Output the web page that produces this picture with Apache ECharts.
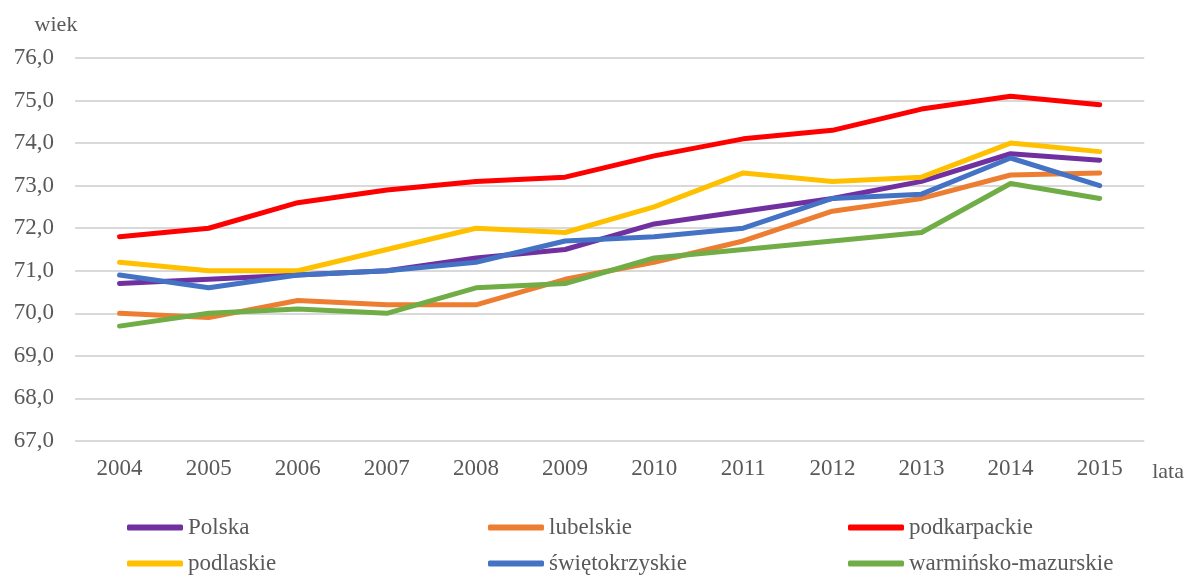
<!DOCTYPE html>
<html>
<head>
<meta charset="utf-8">
<script src="https://cdn.jsdelivr.net/npm/echarts@6/dist/echarts.min.js"></script>
<style>
  html, body { margin: 0; padding: 0; background: #fff; }
  #chart { width: 1187px; height: 576px; }
</style>
</head>
<body>
<div id="chart"></div>
<script>
  var years = ['2004', '2005', '2006', '2007', '2008', '2009', '2010', '2011', '2012', '2013', '2014', '2015'];

  var polska = [70.7, 70.8, 70.9, 71.0, 71.3, 71.5, 72.1, 72.4, 72.7, 73.1, 73.75, 73.6];
  var lubelskie = [70.0, 69.9, 70.3, 70.2, 70.2, 70.8, 71.2, 71.7, 72.4, 72.7, 73.25, 73.3];
  var podkarpackie = [71.8, 72.0, 72.6, 72.9, 73.1, 73.2, 73.7, 74.1, 74.3, 74.8, 75.1, 74.9];
  var podlaskie = [71.2, 71.0, 71.0, 71.5, 72.0, 71.9, 72.5, 73.3, 73.1, 73.2, 74.0, 73.8];
  var swietokrzyskie = [70.9, 70.6, 70.9, 71.0, 71.2, 71.7, 71.8, 72.0, 72.7, 72.8, 73.65, 73.0];
  var warminsko = [69.7, 70.0, 70.1, 70.0, 70.6, 70.7, 71.3, 71.5, 71.7, 71.9, 73.05, 72.7];

  var font = 'Liberation Serif';
  var textColor = '#595959';

  var chart = echarts.init(document.getElementById('chart'), null, { renderer: 'canvas' });

  function line(name, data, color) {
    return {
      name: name,
      type: 'line',
      data: data,
      symbol: 'none',
      lineStyle: { width: 5, color: color, cap: 'round', join: 'round' },
      itemStyle: { color: color }
    };
  }

  // one legend per column, two rows each
  function legendCol(left, names) {
    return {
      orient: 'vertical',
      left: left,
      top: 516,
      height: 70,
      padding: 0,
      data: names,
      icon: 'roundRect',
      itemWidth: 56,
      itemHeight: 6,
      itemGap: 13,
      textStyle: { fontFamily: font, fontSize: 23, color: textColor }
    };
  }

  var options = {
    animation: false,
    textStyle: { fontFamily: font },
    grid: { left: 75, right: 34, top: 58, bottom: 135, containLabel: false },
    legend: [
      legendCol(127, ['Polska', 'podlaskie']),
      legendCol(488, ['lubelskie', 'świętokrzyskie']),
      legendCol(848, ['podkarpackie', 'warmińsko-mazurskie'])
    ],
    xAxis: {
      type: 'category',
      data: years,
      boundaryGap: true,
      name: 'lata',
      nameLocation: 'end',
      nameGap: 8,
      nameTextStyle: { fontFamily: font, fontSize: 22, color: textColor, verticalAlign: 'top', padding: [20, 0, 0, 0] },
      axisLine: { show: false },
      axisTick: { show: false },
      axisLabel: { fontFamily: font, fontSize: 23, color: textColor, margin: 16 }
    },
    yAxis: {
      type: 'value',
      min: 67,
      max: 76,
      interval: 1,
      name: 'wiek',
      nameLocation: 'end',
      nameGap: 22,
      nameTextStyle: { fontFamily: font, fontSize: 22, color: textColor, padding: [0, 38, 0, 0] },
      axisLine: { show: false },
      axisTick: { show: false },
      splitLine: { lineStyle: { color: '#d9d9d9', width: 2 } },
      axisLabel: {
        fontFamily: font, fontSize: 23, color: textColor, margin: 21,
        formatter: function (v) { return v.toFixed(1).replace('.', ','); }
      }
    },
    series: [
      line('Polska', polska, '#7030a0'),
      line('lubelskie', lubelskie, '#ed7d31'),
      line('podkarpackie', podkarpackie, '#ff0000'),
      line('podlaskie', podlaskie, '#ffc000'),
      line('świętokrzyskie', swietokrzyskie, '#4472c4'),
      line('warmińsko-mazurskie', warminsko, '#70ad47')
    ]
  };

  chart.setOption(options);
  window.addEventListener('resize', chart.resize);
</script>
</body>
</html>
